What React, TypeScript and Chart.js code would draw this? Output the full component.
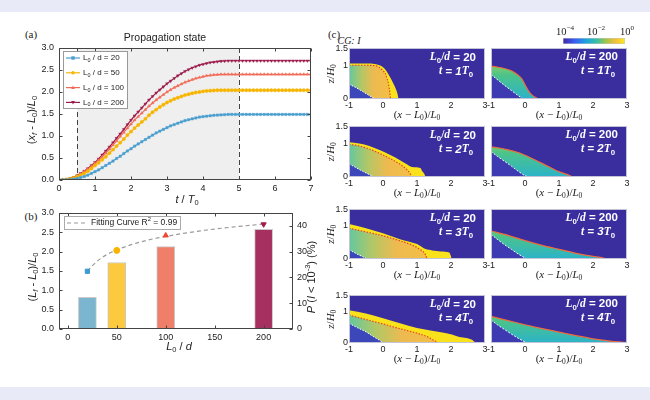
import React, { useEffect, useRef } from 'react';
import { Chart, registerables } from 'chart.js';
import type { Plugin } from 'chart.js';

Chart.register(...registerables);

const SANS = '"Liberation Sans", Arial, sans-serif';
const SERIF = '"Liberation Serif", "DejaVu Serif", serif';
const INK = '#222';

// ---------- (a) front position over time ----------
const tValues = [
  0, 0.1, 0.2, 0.3, 0.4, 0.5, 0.6, 0.7, 0.8, 0.9,
  1, 1.1, 1.2, 1.3, 1.4, 1.5, 1.6, 1.7, 1.8, 1.9,
  2, 2.1, 2.2, 2.3, 2.4, 2.5, 2.6, 2.7, 2.8, 2.9,
  3, 3.1, 3.2, 3.3, 3.4, 3.5, 3.6, 3.7, 3.8, 3.9,
  4, 4.1, 4.2, 4.3, 4.4, 4.5, 4.6, 4.7, 4.8, 4.9,
  5, 5.1, 5.2, 5.3, 5.4, 5.5, 5.6, 5.7, 5.8, 5.9,
  6, 6.1, 6.2, 6.3, 6.4, 6.5, 6.6, 6.7, 6.8, 6.9, 7,
];
const front20 = [
  0, 0.001, 0.004, 0.01, 0.02, 0.035, 0.055, 0.08, 0.11, 0.15,
  0.19, 0.23, 0.28, 0.33, 0.38, 0.43, 0.49, 0.54, 0.6, 0.66,
  0.71, 0.77, 0.82, 0.87, 0.92, 0.97, 1.02, 1.07, 1.11, 1.15,
  1.19, 1.23, 1.26, 1.29, 1.32, 1.35, 1.37, 1.39, 1.41, 1.43,
  1.44, 1.45, 1.46, 1.47, 1.475, 1.48, 1.485, 1.49, 1.49, 1.49,
  1.49, 1.49, 1.49, 1.49, 1.49, 1.49, 1.49, 1.49, 1.49, 1.49,
  1.49, 1.49, 1.49, 1.49, 1.49, 1.49, 1.49, 1.49, 1.49, 1.49, 1.49,
];
const front50 = [
  0, 0.003, 0.01, 0.025, 0.045, 0.075, 0.11, 0.15, 0.2, 0.26,
  0.33, 0.39, 0.46, 0.53, 0.61, 0.69, 0.77, 0.85, 0.93, 1.02,
  1.1, 1.18, 1.25, 1.32, 1.39, 1.47, 1.54, 1.6, 1.66, 1.71,
  1.76, 1.8, 1.84, 1.87, 1.9, 1.93, 1.95, 1.97, 1.99, 2.0,
  2.015, 2.025, 2.03, 2.035, 2.04, 2.04, 2.04, 2.04, 2.04, 2.04,
  2.04, 2.04, 2.04, 2.04, 2.04, 2.04, 2.04, 2.04, 2.04, 2.04,
  2.04, 2.04, 2.04, 2.04, 2.04, 2.04, 2.04, 2.04, 2.04, 2.04, 2.04,
];
const front100 = [
  0, 0.003, 0.011, 0.028, 0.055, 0.09, 0.14, 0.19, 0.25, 0.31,
  0.38, 0.45, 0.53, 0.61, 0.7, 0.8, 0.89, 0.99, 1.08, 1.18,
  1.27, 1.36, 1.44, 1.52, 1.6, 1.68, 1.75, 1.82, 1.88, 1.94,
  2.0, 2.05, 2.1, 2.14, 2.18, 2.22, 2.25, 2.28, 2.31, 2.33,
  2.35, 2.37, 2.38, 2.39, 2.395, 2.4, 2.4, 2.4, 2.4, 2.4,
  2.4, 2.4, 2.4, 2.4, 2.4, 2.4, 2.4, 2.4, 2.4, 2.4,
  2.4, 2.4, 2.4, 2.4, 2.4, 2.4, 2.4, 2.4, 2.4, 2.4, 2.4,
];
const front200 = [
  0, 0.003, 0.012, 0.03, 0.06, 0.1, 0.15, 0.2, 0.26, 0.33,
  0.4, 0.48, 0.57, 0.66, 0.75, 0.85, 0.95, 1.05, 1.15, 1.26,
  1.36, 1.46, 1.55, 1.64, 1.73, 1.82, 1.9, 1.98, 2.05, 2.12,
  2.19, 2.25, 2.31, 2.37, 2.42, 2.47, 2.51, 2.55, 2.58, 2.61,
  2.63, 2.65, 2.67, 2.68, 2.69, 2.7, 2.705, 2.71, 2.71, 2.71,
  2.71, 2.71, 2.71, 2.71, 2.71, 2.71, 2.71, 2.71, 2.71, 2.71,
  2.71, 2.71, 2.71, 2.71, 2.71, 2.71, 2.71, 2.71, 2.71, 2.71, 2.71,
];
const ratioLabels = ['20', '50', '100', '200'];
const lineColors = ['#4a9fd0', '#f7b500', '#f26b56', '#9c1c4c'];
const markerStyles = ['rect', 'circle', 'triangle', 'triangle'];
const markerRotations = [0, 0, 0, 180];
const shadeFrom = 0.5;
const shadeTo = 5;

// ---------- (b) final length and share of dilute current ----------
const ratioX = [20, 50, 100, 200];
const lengthGain = [0.82, 1.72, 2.13, 2.58];
const diluteShare = [22.4, 30.5, 36.3, 40.6];
const fitX = [20, 30, 40, 50, 60, 70, 80, 90, 100, 120, 140, 160, 180, 200];
const fitY = [22.5, 26.3, 28.9, 30.7, 32.1, 33.3, 34.3, 35.2, 35.9, 37.2, 38.3, 39.2, 40.0, 40.7];
const barColors = ['#7cb5d0', '#fdc93e', '#f07f6a', '#a6305f'];
const markerColors = ['#3d9bd0', '#f8b400', '#f2462f', '#a01c4d'];

// ---------- (c) concentration snapshots, boundaries as [x, z] ----------
type Pt = [number, number];
const heatTimes = [1, 2, 3, 4];
const outer20t1: Pt[] = [[-1, 1.05], [-0.5, 1.05], [-0.2, 1.03], [-0.1, 1.0], [0, 0.94], [0.1, 0.83], [0.2, 0.66], [0.3, 0.47], [0.36, 0.34], [0.42, 0.18], [0.46, 0]];
const contour20t1: Pt[] = [[-1, 1.0], [-0.5, 1.0], [-0.2, 0.98], [-0.1, 0.93], [0, 0.84], [0.07, 0.75], [0.12, 0.6], [0.16, 0.45], [0.2, 0.2], [0.22, 0]];
const inner20t1: Pt[] = [[-1, 0.44], [-0.8, 0.34], [-0.6, 0.22], [-0.4, 0.1], [-0.23, 0]];
const outer20t2: Pt[] = [[-1, 1.03], [-0.7, 0.99], [-0.4, 0.92], [-0.1, 0.8], [0.2, 0.66], [0.5, 0.5], [0.7, 0.38], [0.85, 0.3], [1.1, 0.27], [1.15, 0.18], [1.22, 0.08], [1.25, 0]];
const contour20t2: Pt[] = [[-1, 0.97], [-0.7, 0.92], [-0.4, 0.83], [-0.1, 0.7], [0.2, 0.55], [0.5, 0.38], [0.7, 0.22], [0.8, 0.1], [0.85, 0]];
const inner20t2: Pt[] = [[-1, 0.39], [-0.8, 0.28], [-0.6, 0.17], [-0.4, 0.07], [-0.25, 0]];
const outer20t3: Pt[] = [[-1, 1.06], [-0.5, 0.93], [0, 0.78], [0.5, 0.6], [1.0, 0.45], [1.25, 0.3], [1.45, 0.26], [1.7, 0.23], [1.95, 0.2], [2.0, 0.08], [2.02, 0]];
const contour20t3: Pt[] = [[-1, 0.93], [-0.5, 0.82], [0, 0.7], [0.5, 0.55], [0.9, 0.4], [1.1, 0.28], [1.25, 0.13], [1.3, 0]];
const inner20t3: Pt[] = [[-1, 0.28], [-0.8, 0.17], [-0.6, 0.07], [-0.45, 0]];
const outer20t4: Pt[] = [[-1, 1.03], [-0.5, 0.93], [0, 0.78], [0.5, 0.62], [1, 0.47], [1.4, 0.39], [1.75, 0.33], [2.05, 0.26], [2.25, 0.19], [2.45, 0.16], [2.62, 0.1], [2.72, 0]];
const contour20t4: Pt[] = [[-1, 0.88], [-0.5, 0.74], [0, 0.6], [0.5, 0.45], [1, 0.31], [1.3, 0.2], [1.5, 0.08], [1.64, 0]];
const inner20t4: Pt[] = [[-1, 0.62], [-0.75, 0.48], [-0.5, 0.35], [-0.25, 0.18], [0, 0.02], [0.03, 0]];
const top200t1: Pt[] = [[-1, 0.97], [-0.7, 0.92], [-0.4, 0.83], [-0.2, 0.7], [-0.1, 0.6], [0, 0.42], [0.1, 0.24], [0.2, 0.12], [0.3, 0.05], [0.4, 0]];
const inner200t1: Pt[] = [[-1, 0.72], [-0.8, 0.56], [-0.6, 0.4], [-0.4, 0.25], [-0.2, 0.1], [-0.05, 0]];
const top200t2: Pt[] = [[-1, 0.89], [-0.8, 0.86], [-0.5, 0.8], [-0.2, 0.72], [0, 0.64], [0.3, 0.5], [0.6, 0.35], [0.9, 0.2], [1.1, 0.12], [1.3, 0.05], [1.4, 0]];
const inner200t2: Pt[] = [[-1, 0.75], [-0.8, 0.6], [-0.6, 0.46], [-0.4, 0.32], [-0.2, 0.17], [0, 0.04], [0.1, 0]];
const top200t3: Pt[] = [[-1, 0.84], [-0.5, 0.71], [0, 0.55], [0.5, 0.41], [1, 0.29], [1.5, 0.17], [2, 0.08], [2.3, 0.03], [2.38, 0]];
const inner200t3: Pt[] = [[-1, 0.74], [-0.8, 0.58], [-0.6, 0.43], [-0.4, 0.29], [-0.2, 0.15], [0, 0.03], [0.05, 0]];
const top200t4: Pt[] = [[-1, 0.83], [-0.5, 0.7], [0, 0.57], [0.5, 0.45], [1, 0.34], [1.5, 0.23], [2, 0.13], [2.5, 0.06], [2.9, 0.02], [3, 0.01]];
const inner200t4: Pt[] = [[-1, 0.72], [-0.8, 0.56], [-0.6, 0.42], [-0.4, 0.28], [-0.2, 0.15], [0, 0.03], [0.05, 0]];

const outer20 = [outer20t1, outer20t2, outer20t3, outer20t4];
const contour20 = [contour20t1, contour20t2, contour20t3, contour20t4];
const inner20 = [inner20t1, inner20t2, inner20t3, inner20t4];
const top200 = [top200t1, top200t2, top200t3, top200t4];
const inner200 = [inner200t1, inner200t2, inner200t3, inner200t4];

const heatRowTops = [48, 126, 209, 295];
const heatRowHeights = [51, 51, 50, 48];
const heatColLefts = [349, 491];
const HEAT_BG = '#3a2e9e';

const cbarRange = [-4, 0];
const cbarTicks = [-4, -2, 0];
const cbarStops: [number, string][] = [
  [0, '#3e26a8'], [0.18, '#3b5cf0'], [0.38, '#1ca4de'], [0.55, '#3cc0a0'],
  [0.7, '#a6c445'], [0.85, '#f6bf3a'], [1, '#f9ea1e'],
];

// ---------- drawing helpers ----------
type Seg = { t: string; sub?: boolean; sup?: boolean; it?: boolean; b?: boolean; f?: string };

function segFont(s: Seg, size: number, fam: string) {
  const sz = s.sub || s.sup ? size * 0.68 : size;
  return `${s.it ? 'italic ' : ''}${s.b ? 'bold ' : ''}${sz}px ${s.f || fam}`;
}

function drawRich(ctx: CanvasRenderingContext2D, segs: Seg[], x: number, y: number, size: number, fam: string, color: string, align = 'center', rot = 0) {
  ctx.save();
  ctx.translate(x, y);
  if (rot) ctx.rotate(rot);
  let w = 0;
  for (const s of segs) {
    ctx.font = segFont(s, size, fam);
    w += ctx.measureText(s.t).width;
  }
  let cx = align === 'center' ? -w / 2 : align === 'right' ? -w : 0;
  ctx.fillStyle = color;
  ctx.textAlign = 'left';
  ctx.textBaseline = 'middle';
  for (const s of segs) {
    ctx.font = segFont(s, size, fam);
    const dy = s.sub ? size * 0.3 : s.sup ? -size * 0.38 : 0;
    ctx.fillText(s.t, cx, dy);
    cx += ctx.measureText(s.t).width;
  }
  ctx.restore();
}

function drawMarker(ctx: CanvasRenderingContext2D, style: string, x: number, y: number, r: number, rot: number, color: string) {
  ctx.save();
  ctx.translate(x, y);
  ctx.rotate((rot * Math.PI) / 180);
  ctx.fillStyle = color;
  ctx.beginPath();
  if (style === 'rect') ctx.rect(-r, -r, 2 * r, 2 * r);
  else if (style === 'circle') ctx.arc(0, 0, r, 0, Math.PI * 2);
  else {
    ctx.moveTo(0, -r * 1.2);
    ctx.lineTo(r * 1.1, r * 0.8);
    ctx.lineTo(-r * 1.1, r * 0.8);
    ctx.closePath();
  }
  ctx.fill();
  ctx.restore();
}

const tickFont = { family: SANS, size: 9 };
const noGrid = { display: false, drawTicks: false };

function framePlugin(color: string, len: number, rightId?: string): Plugin {
  return {
    id: 'frame',
    afterDraw(chart: any) {
      const { ctx, chartArea: a, scales } = chart;
      const L = Math.round(a.left) + 0.5;
      const R = Math.round(a.right) - 0.5;
      const T = Math.round(a.top) + 0.5;
      const B = Math.round(a.bottom) - 0.5;
      ctx.save();
      ctx.strokeStyle = color;
      ctx.lineWidth = 1;
      ctx.strokeRect(L, T, R - L, B - T);
      ctx.beginPath();
      for (const tk of scales.x.ticks) {
        const px = Math.round(scales.x.getPixelForValue(tk.value)) + 0.5;
        ctx.moveTo(px, B); ctx.lineTo(px, B - len);
        ctx.moveTo(px, T); ctx.lineTo(px, T + len);
      }
      for (const tk of scales.y.ticks) {
        const py = Math.round(scales.y.getPixelForValue(tk.value)) + 0.5;
        ctx.moveTo(L, py); ctx.lineTo(L + len, py);
        if (!rightId) { ctx.moveTo(R, py); ctx.lineTo(R - len, py); }
      }
      if (rightId) {
        const s = scales[rightId];
        for (const tk of s.ticks) {
          const py = Math.round(s.getPixelForValue(tk.value)) + 0.5;
          ctx.moveTo(R, py); ctx.lineTo(R - len, py);
        }
      }
      ctx.stroke();
      ctx.restore();
    },
  };
}

// ---------- (a) ----------
const shadePlugin: Plugin = {
  id: 'shade',
  beforeDatasetsDraw(chart: any) {
    const { ctx, chartArea: a, scales: { x } } = chart;
    const x0 = x.getPixelForValue(shadeFrom);
    const x1 = x.getPixelForValue(shadeTo);
    ctx.save();
    ctx.fillStyle = '#efefef';
    ctx.fillRect(x0, a.top, x1 - x0, a.height);
    ctx.strokeStyle = '#444';
    ctx.lineWidth = 1;
    ctx.setLineDash([5, 3]);
    ctx.beginPath();
    for (const px of [x0, x1]) {
      ctx.moveTo(Math.round(px) + 0.5, a.top);
      ctx.lineTo(Math.round(px) + 0.5, a.bottom);
    }
    ctx.stroke();
    ctx.restore();
  },
};

const legendA: Plugin = {
  id: 'legendA',
  afterDraw(chart: any) {
    const { ctx, chartArea: a } = chart;
    const x0 = Math.round(a.left) + 4;
    const y0 = Math.round(a.top) + 3;
    ctx.save();
    ctx.fillStyle = '#fff';
    ctx.fillRect(x0, y0, 64, 57);
    ctx.strokeStyle = '#999';
    ctx.lineWidth = 1;
    ctx.strokeRect(x0 + 0.5, y0 + 0.5, 64, 57);
    ratioLabels.forEach((lab, i) => {
      const y = y0 + 7 + i * 14.8;
      ctx.strokeStyle = lineColors[i];
      ctx.lineWidth = 1.2;
      ctx.beginPath();
      ctx.moveTo(x0 + 3, y);
      ctx.lineTo(x0 + 17, y);
      ctx.stroke();
      drawMarker(ctx, markerStyles[i], x0 + 10, y, 1.7, markerRotations[i], lineColors[i]);
      drawRich(ctx, [{ t: 'L' }, { t: '0', sub: true }, { t: ' / d = ' + lab }], x0 + 20, y, 8, SANS, INK, 'left');
    });
    ctx.restore();
  },
};

const titlesA: Plugin = {
  id: 'titlesA',
  afterDraw(chart: any) {
    const { ctx } = chart;
    drawRich(ctx, [{ t: 'Propagation state' }], 165, 13, 10.5, SANS, INK);
    drawRich(ctx, [{ t: '(' }, { t: 'x', it: true }, { t: 'f', sub: true, it: true }, { t: ' - ' }, { t: 'L', it: true }, { t: '0', sub: true }, { t: ')/' }, { t: 'L', it: true }, { t: '0', sub: true }], 32, 95, 11, SANS, INK, 'center', -Math.PI / 2);
    drawRich(ctx, [{ t: 't', it: true }, { t: ' / ' }, { t: 'T', it: true }, { t: '0', sub: true }], 187, 175, 11, SANS, INK);
  },
};

const makeA = () => ({
  type: 'line',
  data: {
    datasets: [front20, front50, front100, front200].map((ys, i) => ({
      label: ratioLabels[i],
      data: ys.map((y, j) => ({ x: tValues[j], y })),
      borderColor: lineColors[i],
      backgroundColor: lineColors[i],
      borderWidth: 1.2,
      pointRadius: 1.7,
      pointStyle: markerStyles[i],
      pointRotation: markerRotations[i],
      pointBorderWidth: 0.4,
      tension: 0,
    })),
  },
  options: {
    animation: false,
    responsive: false,
    events: [],
    layout: { padding: { top: 23, right: 14, left: 0, bottom: 0 } },
    plugins: { legend: { display: false }, tooltip: { enabled: false } },
    scales: {
      x: {
        type: 'linear', min: 0, max: 7,
        ticks: { stepSize: 1, font: tickFont, color: INK, padding: 3 },
        grid: noGrid, border: { display: false },
        afterFit: (s: any) => { s.height = 35; },
      },
      y: {
        type: 'linear', min: 0, max: 3,
        ticks: { stepSize: 0.5, font: tickFont, color: INK, padding: 5, callback: (v: any) => Number(v).toFixed(1) },
        grid: noGrid, border: { display: false },
        afterFit: (s: any) => { s.width = 59; },
      },
    },
  },
  plugins: [shadePlugin, framePlugin('#444', 3), legendA, titlesA],
});

// ---------- (b) ----------
const legendB: Plugin = {
  id: 'legendB',
  afterDraw(chart: any) {
    const { ctx, chartArea: a } = chart;
    const x0 = Math.round(a.left) + 5;
    const y0 = Math.round(a.top) + 3;
    ctx.save();
    ctx.fillStyle = '#fff';
    ctx.fillRect(x0, y0, 116, 13);
    ctx.strokeStyle = '#aaa';
    ctx.lineWidth = 1;
    ctx.strokeRect(x0 + 0.5, y0 + 0.5, 116, 13);
    ctx.strokeStyle = '#999';
    ctx.lineWidth = 1.2;
    ctx.setLineDash([4, 3]);
    ctx.beginPath();
    ctx.moveTo(x0 + 3, y0 + 7);
    ctx.lineTo(x0 + 23, y0 + 7);
    ctx.stroke();
    ctx.restore();
    drawRich(ctx, [{ t: 'Fitting Curve R' }, { t: '2', sup: true }, { t: ' = 0.99' }], x0 + 27, y0 + 7, 8.5, SANS, INK, 'left');
  },
};

const titlesB: Plugin = {
  id: 'titlesB',
  afterDraw(chart: any) {
    const { ctx } = chart;
    drawRich(ctx, [{ t: '(' }, { t: 'L', it: true }, { t: 'f', sub: true, it: true }, { t: ' - ' }, { t: 'L', it: true }, { t: '0', sub: true }, { t: ')/' }, { t: 'L', it: true }, { t: '0', sub: true }], 33, 77, 11, SANS, INK, 'center', -Math.PI / 2);
    drawRich(ctx, [{ t: 'P', it: true }, { t: ' (' }, { t: 'I', it: true }, { t: ' < 10' }, { t: '-3', sup: true }, { t: ') (%)' }], 312, 77, 11, SANS, INK, 'center', -Math.PI / 2);
    drawRich(ctx, [{ t: 'L', it: true }, { t: '0', sub: true }, { t: ' / ' }, { t: 'd', it: true }], 179, 147, 11, SANS, INK);
  },
};

const makeB = () => ({
  type: 'bar',
  data: {
    datasets: [
      {
        type: 'line',
        data: fitX.map((x, i) => ({ x, y: fitY[i] })),
        yAxisID: 'y2',
        borderColor: '#9b9b9b',
        borderDash: [4, 3],
        borderWidth: 1.2,
        pointRadius: 0,
        cubicInterpolationMode: 'monotone',
        order: 2,
      },
      {
        type: 'line',
        data: ratioX.map((x, i) => ({ x, y: diluteShare[i] })),
        yAxisID: 'y2',
        showLine: false,
        pointStyle: markerStyles,
        pointRotation: markerRotations,
        pointRadius: 3,
        pointBackgroundColor: markerColors,
        pointBorderColor: markerColors,
        order: 1,
      },
      {
        type: 'bar',
        data: ratioX.map((x, i) => ({ x, y: lengthGain[i] })),
        yAxisID: 'y',
        backgroundColor: barColors,
        borderColor: '#c9c9c9',
        borderWidth: 1,
        borderSkipped: false,
        barThickness: 18,
        order: 3,
      },
    ],
  },
  options: {
    animation: false,
    responsive: false,
    events: [],
    layout: { padding: { top: 13, right: 0, left: 0, bottom: 0 } },
    plugins: { legend: { display: false }, tooltip: { enabled: false } },
    scales: {
      x: {
        type: 'linear', min: -9, max: 230, offset: false,
        ticks: { stepSize: 50, includeBounds: false, font: tickFont, color: INK, padding: 3 },
        grid: noGrid, border: { display: false },
        afterFit: (s: any) => { s.height = 31; },
      },
      y: {
        type: 'linear', position: 'left', min: 0, max: 3,
        ticks: { stepSize: 0.5, font: tickFont, color: INK, padding: 5, callback: (v: any) => Number(v).toFixed(1) },
        grid: noGrid, border: { display: false },
        afterFit: (s: any) => { s.width = 59; },
      },
      y2: {
        type: 'linear', position: 'right', min: 0, max: 45,
        ticks: { stepSize: 10, includeBounds: false, font: tickFont, color: INK, padding: 4 },
        grid: noGrid, border: { display: false },
        afterFit: (s: any) => { s.width = 32; },
      },
    },
  },
  plugins: [framePlugin('#444', 3, 'y2'), legendB, titlesB],
});

// ---------- (c) ----------
const coarseStops: [number, string][] = [[0, '#62c8a0'], [0.3, '#b2c766'], [0.6, '#eeba50'], [1, '#f3bf45']];
const fineStops: [number, string][] = [[0, '#86cf63'], [0.3, '#4cc38a'], [1, '#2bb3c9']];

function xGradient(stops: [number, string][], x0: number, x1: number) {
  return (c: any) => {
    const chart = c.chart;
    if (!chart.chartArea) return stops[0][1];
    const xs = chart.scales.x;
    const g = chart.ctx.createLinearGradient(xs.getPixelForValue(x0), 0, xs.getPixelForValue(x1), 0);
    stops.forEach(([p, col]) => g.addColorStop(p, col));
    return g;
  };
}

function yGradient(stops: [number, string][], y0: number, y1: number) {
  return (c: any) => {
    const chart = c.chart;
    if (!chart.chartArea) return stops[0][1];
    const ys = chart.scales.y;
    const g = chart.ctx.createLinearGradient(0, ys.getPixelForValue(y0), 0, ys.getPixelForValue(y1));
    stops.forEach(([p, col]) => g.addColorStop(p, col));
    return g;
  };
}

const toXY = (p: Pt[]) => p.map(([x, y]) => ({ x, y }));

function makeHeat(row: number, col: number) {
  const ld = col === 0 ? 20 : 200;
  const t = heatTimes[row];
  const datasets: any[] = col === 0
    ? [
        { data: toXY(outer20[row]), fill: 'origin', backgroundColor: '#f9e21b', borderColor: 'rgba(0,0,0,0)', borderWidth: 1, order: 3 },
        {
          data: toXY(contour20[row]), fill: 'origin',
          backgroundColor: xGradient(coarseStops, -1, contour20[row][contour20[row].length - 1][0]),
          borderColor: '#e8402c', borderWidth: 1.2, borderDash: [1.5, 1.5], order: 2,
        },
        { data: toXY(inner20[row]), fill: 'origin', backgroundColor: '#3c47ba', borderColor: '#ffffff', borderWidth: 1, borderDash: [1.5, 1.5], order: 1 },
      ]
    : [
        { data: toXY(top200[row]), fill: 'origin', backgroundColor: yGradient(fineStops, 1, 0), borderColor: '#f06a3c', borderWidth: 1.2, order: 2 },
        { data: toXY(inner200[row]), fill: 'origin', backgroundColor: '#3e3bb2', borderColor: '#ffffff', borderWidth: 1, borderDash: [2, 1.5], order: 1 },
      ];

  const heatDeco: Plugin = {
    id: 'heatDeco',
    beforeDraw(chart: any) {
      const { ctx, chartArea: a } = chart;
      ctx.save();
      ctx.fillStyle = HEAT_BG;
      ctx.fillRect(a.left, a.top, a.width, a.height);
      ctx.restore();
    },
    afterDraw(chart: any) {
      const { ctx, chartArea: a } = chart;
      ctx.save();
      ctx.strokeStyle = '#c4c4d8';
      ctx.lineWidth = 1;
      ctx.strokeRect(Math.round(a.left) + 0.5, Math.round(a.top) + 0.5, Math.round(a.width) - 1, Math.round(a.height) - 1);
      ctx.restore();
      drawRich(ctx, [{ t: 'L', it: true, b: true, f: SERIF }, { t: '0', sub: true, b: true }, { t: '/', b: true, f: SERIF }, { t: 'd', it: true, b: true, f: SERIF }, { t: ' = ' + ld, b: true }], a.right - 9, a.top + 9, 11.5, SANS, '#ffffff', 'right');
      drawRich(ctx, [{ t: 't', it: true, b: true, f: SERIF }, { t: ' = ' + t, b: true, it: true }, { t: 'T', it: true, b: true, f: SERIF }, { t: '0', sub: true, b: true }], a.right - 12, a.top + 23, 11.5, SANS, '#ffffff', 'right');
      drawRich(ctx, [{ t: '(' }, { t: 'x', it: true }, { t: ' \u2212 ' }, { t: 'L', it: true }, { t: '0', sub: true }, { t: ')/' }, { t: 'L', it: true }, { t: '0', sub: true }], (a.left + a.right) / 2, a.bottom + 16, 11, SERIF, INK);
      if (col === 0) {
        drawRich(ctx, [{ t: 'z', it: true }, { t: '/' }, { t: 'H', it: true }, { t: '0', sub: true }], a.left - 18, (a.top + a.bottom) / 2, 11, SERIF, INK, 'center', -Math.PI / 2);
      }
    },
  };

  return {
    type: 'line',
    data: { datasets },
    options: {
      animation: false,
      responsive: false,
      events: [],
      layout: { padding: { top: 6, right: 8, left: 0, bottom: 0 } },
      elements: { point: { radius: 0 }, line: { cubicInterpolationMode: 'monotone' } },
      plugins: { legend: { display: false }, tooltip: { enabled: false } },
      scales: {
        x: {
          type: 'linear', min: -1, max: 3,
          ticks: { stepSize: 1, font: tickFont, color: INK, padding: 1 },
          grid: noGrid, border: { display: false },
          afterFit: (s: any) => { s.height = 32; },
        },
        y: {
          type: 'linear', min: 0, max: 1.5,
          ticks: { display: col === 0, stepSize: 0.5, font: tickFont, color: INK, padding: 1, callback: (v: any) => (v === 0.5 ? '' : String(v)) },
          grid: noGrid, border: { display: false },
          afterFit: (s: any) => { s.width = 26; },
        },
      },
    },
    plugins: [heatDeco],
  };
}

const heatPanels = heatRowTops.flatMap((top, r) =>
  heatColLefts.map((left, c) => ({
    key: `h${r}${c}`,
    left: left - 26,
    top: top - 6,
    height: 6 + heatRowHeights[r] + 32,
    make: () => makeHeat(r, c),
  })),
);

// ---------- colour bar ----------
const cbarLabels: Plugin = {
  id: 'cbarLabels',
  afterDraw(chart: any) {
    const { ctx, chartArea: a, scales: { x } } = chart;
    for (const e of cbarTicks) {
      drawRich(ctx, [{ t: '10' }, { t: e === 0 ? '0' : '\u2212' + Math.abs(e), sup: true }], x.getPixelForValue(e) + 2, a.top - 6, 10.5, SERIF, INK);
    }
  },
};

const makeCbar = () => ({
  type: 'bar',
  data: {
    labels: ['I'],
    datasets: [{
      data: [cbarRange],
      backgroundColor: (c: any) => {
        const chart = c.chart;
        if (!chart.chartArea) return cbarStops[0][1];
        const xs = chart.scales.x;
        const g = chart.ctx.createLinearGradient(xs.getPixelForValue(cbarRange[0]), 0, xs.getPixelForValue(cbarRange[1]), 0);
        cbarStops.forEach(([p, col]) => g.addColorStop(p, col));
        return g;
      },
      borderColor: '#c8c8c8',
      borderWidth: 0.8,
      borderSkipped: false,
      barPercentage: 1,
      categoryPercentage: 1,
    }],
  },
  options: {
    indexAxis: 'y',
    animation: false,
    responsive: false,
    events: [],
    layout: { padding: { top: 13, right: 10, left: 8, bottom: 6 } },
    plugins: { legend: { display: false }, tooltip: { enabled: false } },
    scales: {
      x: { type: 'linear', min: cbarRange[0], max: cbarRange[1], display: false },
      y: { display: false },
    },
  },
  plugins: [cbarLabels],
});

// ---------- components ----------
function ChartCanvas({ make, left, top, width, height }: { make: () => any; left: number; top: number; width: number; height: number }) {
  const ref = useRef<HTMLCanvasElement | null>(null);
  useEffect(() => {
    if (!ref.current) return;
    const chart = new Chart(ref.current, make());
    return () => chart.destroy();
  }, [make]);
  return <canvas ref={ref} width={width} height={height} style={{ position: 'absolute', left, top, width, height }} />;
}

function Tag({ x, y, children, italic, size = 11 }: { x: number; y: number; children: React.ReactNode; italic?: boolean; size?: number }) {
  return (
    <div
      style={{
        position: 'absolute', left: x, top: y, transform: 'translate(-50%, -50%)',
        fontFamily: SERIF, fontSize: size, lineHeight: 1, color: INK, whiteSpace: 'nowrap',
        fontStyle: italic ? 'italic' : 'normal',
      }}
    >
      {children}
    </div>
  );
}

export default function App() {
  return (
    <div style={{ position: 'fixed', left: 0, top: 0, width: 650, height: 400, background: '#fff', overflow: 'hidden' }}>
      <div style={{ position: 'absolute', left: 0, top: 0, width: 650, height: 12, background: '#e8eaf7' }} />
      <div style={{ position: 'absolute', left: 0, top: 387, width: 650, height: 13, background: '#e8eaf7' }} />
      <Tag x={31} y={34}>(a)</Tag>
      <Tag x={31} y={216}>(b)</Tag>
      <Tag x={334} y={34}>(c)</Tag>
      <Tag x={349} y={41} italic size={10}>CG: I</Tag>
      <ChartCanvas make={makeA} left={0} top={25} width={325} height={190} />
      <ChartCanvas make={makeB} left={0} top={200} width={325} height={160} />
      {heatPanels.map((p) => (
        <ChartCanvas key={p.key} make={p.make} left={p.left} top={p.top} width={170} height={p.height} />
      ))}
      <ChartCanvas make={makeCbar} left={555} top={25} width={80} height={25} />
    </div>
  );
}
